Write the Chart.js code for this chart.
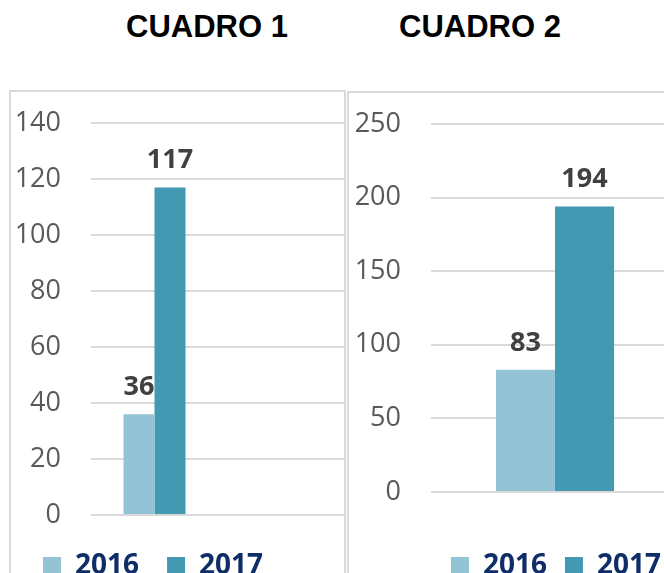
<!DOCTYPE html>
<html>
<head>
<meta charset="utf-8">
<script src="https://cdn.jsdelivr.net/npm/chart.js@4/dist/chart.umd.min.js"></script>
<style>
  html, body { margin: 0; padding: 0; width: 664px; height: 573px; overflow: hidden; background: #fff; }
  .title { position: absolute; top: 9px; font: bold 31px "Liberation Sans", Arial, sans-serif; color: #000; white-space: nowrap; width: 240px; text-align: center; }
  .panel { position: absolute; box-sizing: border-box; border: 2px solid #d9d9d9; height: 600px; }
  canvas { position: absolute; }
</style>
</head>
<body>
<div class="title" style="left:87px;">CUADRO 1</div>
<div class="title" style="left:360px;">CUADRO 2</div>
<div class="panel" style="left:9px; top:90px; width:337px;"></div>
<div class="panel" style="left:347px; top:91px; width:340px;"></div>
<canvas id="c1" width="336" height="500" style="left:9px; top:90px;"></canvas>
<canvas id="c2" width="331" height="499" style="left:348px; top:91px;"></canvas>
<script>
// ---- data ----
const series = ['2016', '2017'];
const categories1 = ['', ''];
const values1_2016 = [36, null];
const values1_2017 = [117, null];
const ticks1 = { min: 0, max: 140, step: 20 };

const categories2 = [''];
const values2_2016 = [83];
const values2_2017 = [194];
const ticks2 = { min: 0, max: 250, step: 50 };

const colors = ['#94c3d5', '#4399b1'];

const valueLabels = {
  id: 'valueLabels',
  afterDatasetsDraw(chart) {
    const ctx = chart.ctx;
    ctx.save();
    ctx.font = 'bold 27px "Open Sans"';
    ctx.fillStyle = '#404040';
    ctx.textAlign = 'center';
    ctx.textBaseline = 'alphabetic';
    chart.data.datasets.forEach((ds, i) => {
      const meta = chart.getDatasetMeta(i);
      meta.data.forEach((bar, j) => {
        const v = ds.data[j];
        if (v === null || v === undefined) return;
        ctx.fillText(String(v), bar.x, bar.y - 19);
      });
    });
    ctx.restore();
  }
};

function makeChart(id, cats, d16, d17, tk, opts) {
  return new Chart(document.getElementById(id), {
    type: 'bar',
    data: {
      labels: cats,
      datasets: [
        { label: series[0], data: d16, backgroundColor: colors[0], borderWidth: 0 },
        { label: series[1], data: d17, backgroundColor: colors[1], borderWidth: 0 }
      ]
    },
    options: {
      responsive: false,
      animation: false,
      devicePixelRatio: 1,
      categoryPercentage: opts.catPct,
      barPercentage: 1,
      layout: { padding: { left: opts.padL, top: 33, right: 0, bottom: 0 } },
      plugins: {
        tooltip: { enabled: false },
        legend: {
          position: 'bottom',
          align: opts.legAlign,
          labels: {
            boxWidth: 18, boxHeight: 18, padding: opts.legPad,
            color: '#0f2d69',
            font: { family: 'Open Sans', size: 28, weight: 'bold' }
          }
        }
      },
      scales: {
        x: {
          grid: { display: false },
          border: { display: false },
          ticks: { display: false },
          afterFit: s => { s.height = opts.xH; }
        },
        y: {
          min: tk.min, max: tk.max,
          ticks: { stepSize: tk.step, padding: 0, color: '#595959', font: { family: 'Open Sans', size: 27 } },
          grid: { color: '#d9d9d9', lineWidth: 2, drawTicks: true, tickLength: 30, tickColor: 'rgba(0,0,0,0)' },
          border: { display: false },
          afterFit: s => { s.width = opts.yW; }
        }
      }
    },
    plugins: [valueLabels]
  });
}

makeChart('c1', categories1, values1_2016, values1_2017, ticks1, { catPct: 0.488, padL: 6, yW: 76, xH: 9, legPad: 28, legAlign: 'start' });
makeChart('c2', categories2, values2_2016, values2_2017, ticks2, { catPct: 0.476, padL: 0, yW: 83, xH: 42, legPad: 18, legAlign: 'end' });
</script>
</body>
</html>
